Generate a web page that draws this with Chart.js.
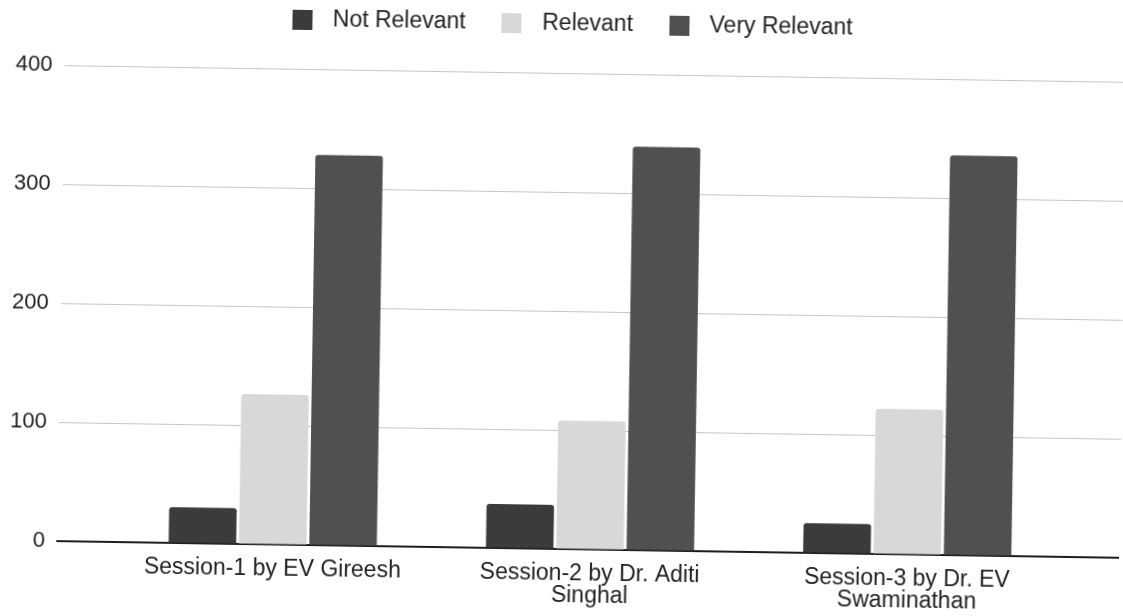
<!DOCTYPE html>
<html>
<head>
<meta charset="utf-8">
<title>Session relevance</title>
<script src="https://cdn.jsdelivr.net/npm/chart.js@4/dist/chart.umd.min.js"></script>
<style>
  html, body { margin: 0; padding: 0; background: #fff; overflow: hidden; }
  #stage { position: relative; width: 1123px; height: 616px; overflow: hidden; background: #fff;
           transform: rotate(0.9deg); transform-origin: 561.5px 308px; }
  #stage canvas { display: block; }
</style>
</head>
<body>
<div id="stage"><canvas id="c"></canvas></div>
<script>
// Categories (multi-line session labels)
const sessions = [
  ["Session-1 by EV Gireesh"],
  ["Session-2 by Dr. Aditi", "Singhal"],
  ["Session-3 by Dr. EV", "Swaminathan"]
];
const seriesNames = ["Not Relevant", "Relevant", "Very Relevant"];

// Responses per session
const notRelevant  = [30, 37, 25];
const relevant     = [126, 108, 122];
const veryRelevant = [328, 339, 336];

// Value axis ticks
const yTicks = [0, 100, 200, 300, 400];

const seriesColors = ["#3b3b3b", "#d8d8d8", "#505050"];
const seriesValues = [notRelevant, relevant, veryRelevant];
const FONT = 'Liberation Sans, Arial, sans-serif';

// Square legend markers, centred inside a wider slot so the label sits further off
function marker(color) {
  const c = document.createElement('canvas');
  c.width = 20; c.height = 20;
  const g = c.getContext('2d');
  g.fillStyle = color;
  g.fillRect(0, 0, 20, 20);
  return c;
}
const markers = seriesColors.map(marker);

const datasets = seriesNames.map((name, s) => ({
  label: name,
  data: seriesValues[s].map((v, i) => ({ x: i, y: v })),
  backgroundColor: seriesColors[s],
  borderWidth: 0,
  borderRadius: { topLeft: 3, topRight: 3, bottomLeft: 0, bottomRight: 0 },
  borderSkipped: 'start',
  categoryPercentage: 0.665,
  barPercentage: 0.96
}));

const LEGEND_PAD = 27;

// Legend band height sets where the plot begins; its row is lifted near the top edge
const legendPlacement = {
  id: 'legendPlacement',
  beforeInit(chart) {
    const fit = chart.legend.fit;
    chart.legend.fit = function () {
      fit.call(this);
      this.height = 73;
    };
  },
  afterLayout(chart) {
    const lg = chart.legend;
    lg.top -= (LEGEND_PAD - 12);
    lg.left += 2;
    lg.right += 2;
  }
};

new Chart(document.getElementById('c'), {
  type: 'bar',
  data: { datasets },
  plugins: [legendPlacement],
  options: {
    responsive: true,
    maintainAspectRatio: false,
    animation: false,
    layout: { padding: { left: 0, right: 0, top: 0, bottom: 5 } },
    plugins: {
      tooltip: { enabled: false },
      legend: {
        position: 'top',
        align: 'center',
        labels: {
          usePointStyle: true,
          pointStyleWidth: 38,
          boxHeight: 20,
          padding: LEGEND_PAD,
          color: '#222',
          font: { family: FONT, size: 23 },
          generateLabels(chart) {
            const items = Chart.defaults.plugins.legend.labels.generateLabels(chart);
            items.forEach((it, i) => { it.pointStyle = markers[i]; });
            return items;
          }
        }
      }
    },
    scales: {
      x: {
        type: 'linear',
        min: -0.68,
        max: 2.668,
        offset: false,
        grid: { display: false, drawTicks: false },
        border: { display: true, color: '#1e1e1e', width: 2 },
        afterFit(scale) {
          scale.paddingLeft = 0;
          scale.paddingRight = 0;
          scale.height = 62;
        },
        ticks: {
          stepSize: 1,
          includeBounds: false,
          autoSkip: false,
          maxRotation: 0,
          minRotation: 0,
          padding: 13,
          color: '#222',
          font: { family: FONT, size: 23, lineHeight: 0.98 },
          callback: (v) => (Number.isInteger(v) && sessions[v]) ? sessions[v] : ''
        }
      },
      y: {
        min: 0,
        max: 400,
        afterBuildTicks: (scale) => { scale.ticks = yTicks.map(v => ({ value: v })); },
        grid: {
          drawTicks: false,
          color: (ctx) => ctx.tick && ctx.tick.value === 0 ? 'rgba(0,0,0,0)' : '#c6c6c6',
          lineWidth: 1
        },
        border: { display: false },
        ticks: {
          padding: 12,
          color: '#222',
          font: { family: FONT, size: 22 }
        }
      }
    }
  }
});
</script>
</body>
</html>
